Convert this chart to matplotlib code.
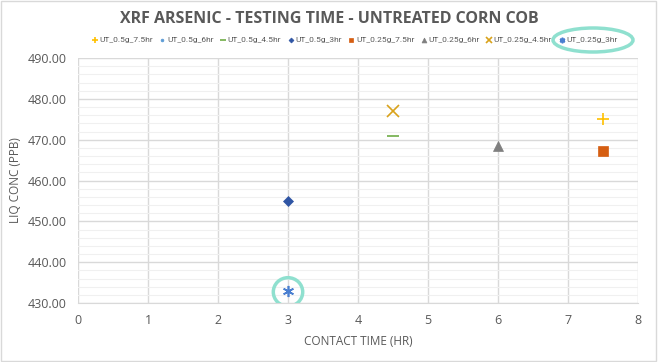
import numpy as np
import matplotlib
matplotlib.use("Agg")
import matplotlib.pyplot as plt
from matplotlib.patches import Ellipse, Rectangle
from matplotlib.ticker import MultipleLocator

# Data
series_names = ["UT_0.5g_7.5hr", "UT_0.5g_6hr", "UT_0.5g_4.5hr", "UT_0.5g_3hr",
                "UT_0.25g_7.5hr", "UT_0.25g_6hr", "UT_0.25g_4.5hr", "UT_0.25g_3hr"]
x_values = [[7.5], [], [4.5], [3.0], [7.5], [6.0], [4.5], [3.0]]
y_values = [[475.0], [], [471.0], [455.0], [467.2], [468.5], [477.0], [433.0]]

markers = ["+", "o", "_", "D", "s", "^", "x", (6, 2, 0)]
colors = ["#FFC000", "#5B9BD5", "#70AD47", "#2F55A4", "#D55E12", "#7F7F7F", "#D9A21B", "#4A7FD0"]
sizes = [9, 4, 9, 5, 7, 7, 9, 8]

plt.rcParams['font.family'] = ['Open Sans', 'DejaVu Sans']

fig = plt.figure(figsize=(6.58, 3.62), dpi=100)
ax = fig.add_axes([78/658, 1 - 303/362, (638-78)/658, (303-58)/362])

for name, xs, ys, m, c, s in zip(series_names, x_values, y_values, markers, colors, sizes):
    if len(xs) == 0:
        xs, ys = [np.nan], [np.nan]
    ax.plot(xs, ys, linestyle="none", marker=m, color=c, markersize=s,
            markeredgewidth=1.2 if m in ("+", "x", "_", (6, 2, 0)) else 0.5,
            markeredgecolor=c, label=name, zorder=3)

ax.set_xlim(0, 8)
ax.set_ylim(430, 490)
ax.xaxis.set_major_locator(MultipleLocator(1))
ax.yaxis.set_major_locator(MultipleLocator(10))
ax.yaxis.set_minor_locator(MultipleLocator(2))
ax.grid(which="major", color="#D9D9D9", linewidth=1.0, zorder=0)
ax.grid(which="minor", axis="y", color="#F0F0F0", linewidth=0.8, zorder=0)
ax.set_axisbelow(True)
ax.yaxis.set_major_formatter(matplotlib.ticker.FuncFormatter(lambda v, p: f"{v:.2f}"))
for sp in ax.spines.values():
    sp.set_visible(False)
ax.spines["bottom"].set_visible(True)
ax.spines["bottom"].set_color("#D9D9D9")
ax.tick_params(which="both", length=0, labelsize=9, colors="#595959", pad=8)

ax.set_xlabel("CONTACT TIME (HR)", fontsize=8.5, color="#595959", labelpad=6)
ax.set_ylabel("LIQ CONC (PPB)", fontsize=8.5, color="#595959", labelpad=4)

fig.text(0.5, 1 - 19/362, "XRF ARSENIC - TESTING TIME - UNTREATED CORN COB",
         ha="center", va="center", fontsize=11.5, fontweight="bold", color="#595959")

leg = fig.legend(loc="center", bbox_to_anchor=(355 / 658, 1 - 40/362), ncol=8,
                 frameon=False, prop={'family': ['Roboto', 'Open Sans'], 'size': 6.0},
                 handlelength=0.5, handletextpad=0.3,
                 columnspacing=0.9, markerscale=0.5, labelcolor="#595959")

# teal annotation circles
teal = "#8FE0CF"
circ = Ellipse((3.0, 432.7), width=0.42, height=7.0, fill=False, edgecolor=teal,
               linewidth=2.5, zorder=4)
ax.add_patch(circ)
fig.patches.append(Ellipse((593/658, 1 - 40/362), width=80/658, height=24/362,
                           transform=fig.transFigure, fill=False, edgecolor=teal,
                           linewidth=2.5))

# figure border
fig.patches.append(Rectangle((0.002, 0.003), 0.995, 0.993, transform=fig.transFigure,
                             fill=False, edgecolor="#D9D9D9", linewidth=1))

fig.savefig("out.png", dpi=100)
